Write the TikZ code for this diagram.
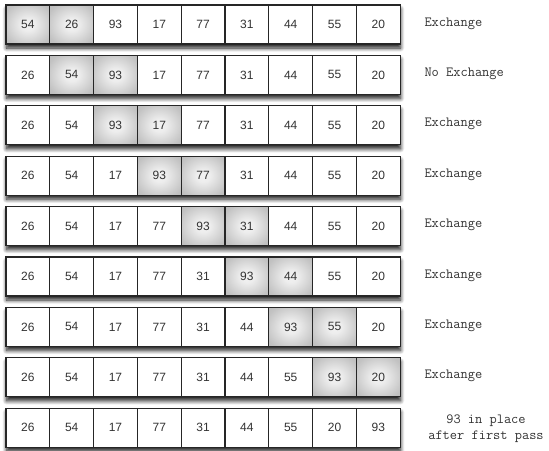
\documentclass[tikz,border=0pt]{standalone}
\usepackage{fontspec}
\setsansfont{Liberation Sans}
\usetikzlibrary{shadows.blur}

\pgfdeclareradialshading{cellglow}{\pgfpoint{0bp}{0bp}}{color(0bp)=(black!5); color(8bp)=(black!7); color(30bp)=(black!24); color(50bp)=(black!30)}

\begin{document}
\begin{tikzpicture}[
  x=1pt,y=-1pt,
  cell/.style={draw=black!85, line width=1.1pt, fill=white, minimum width=43.8pt, minimum height=39pt, inner sep=0pt, font=\sffamily\fontsize{12}{13}\selectfont, text=black!80},
  hot/.code={\ifnum#1=1 \pgfkeysalso{shading=cellglow}\fi},
  note/.style={anchor=west, font=\ttfamily\fontsize{14}{16}\selectfont, text=black!80},
  rowback/.style={fill=white, blur shadow={shadow xshift=0.5pt, shadow yshift=-4pt, shadow blur steps=10, shadow blur radius=4pt, shadow opacity=90}}
]
\useasboundingbox (0,0) rectangle (549,450);
% one row per step of the first pass: values, the compared pair, the result
\foreach \r/\vals/\a/\b/\msg in {
  1/{54,26,93,17,77,31,44,55,20}/1/2/Exchange,
  2/{26,54,93,17,77,31,44,55,20}/2/3/No Exchange,
  3/{26,54,93,17,77,31,44,55,20}/3/4/Exchange,
  4/{26,54,17,93,77,31,44,55,20}/4/5/Exchange,
  5/{26,54,17,77,93,31,44,55,20}/5/6/Exchange,
  6/{26,54,17,77,31,93,44,55,20}/6/7/Exchange,
  7/{26,54,17,77,31,44,93,55,20}/7/8/Exchange,
  8/{26,54,17,77,31,44,55,93,20}/8/9/Exchange,
  9/{26,54,17,77,31,44,55,20,93}/0/0/{}}{
  \pgfmathsetmacro\y{24.5+50.4*(\r-1)}
  \fill[rowback] (6,\y-19.5) rectangle (400,\y+19.5);
  \foreach \v [count=\i] in \vals {
    \pgfmathtruncatemacro\h{(\i==\a)||(\i==\b)}
    \node[cell, hot=\h] (c\r-\i) at (27.9+43.8*\i-43.8,\y) {\v};
  }
  \node[note] (msg\r) at (421,\y-1) {\msg};
}
\node[note, anchor=center, align=center] (last) at (486,428.5) {93 in place\\after first pass};
\end{tikzpicture}
\end{document}
